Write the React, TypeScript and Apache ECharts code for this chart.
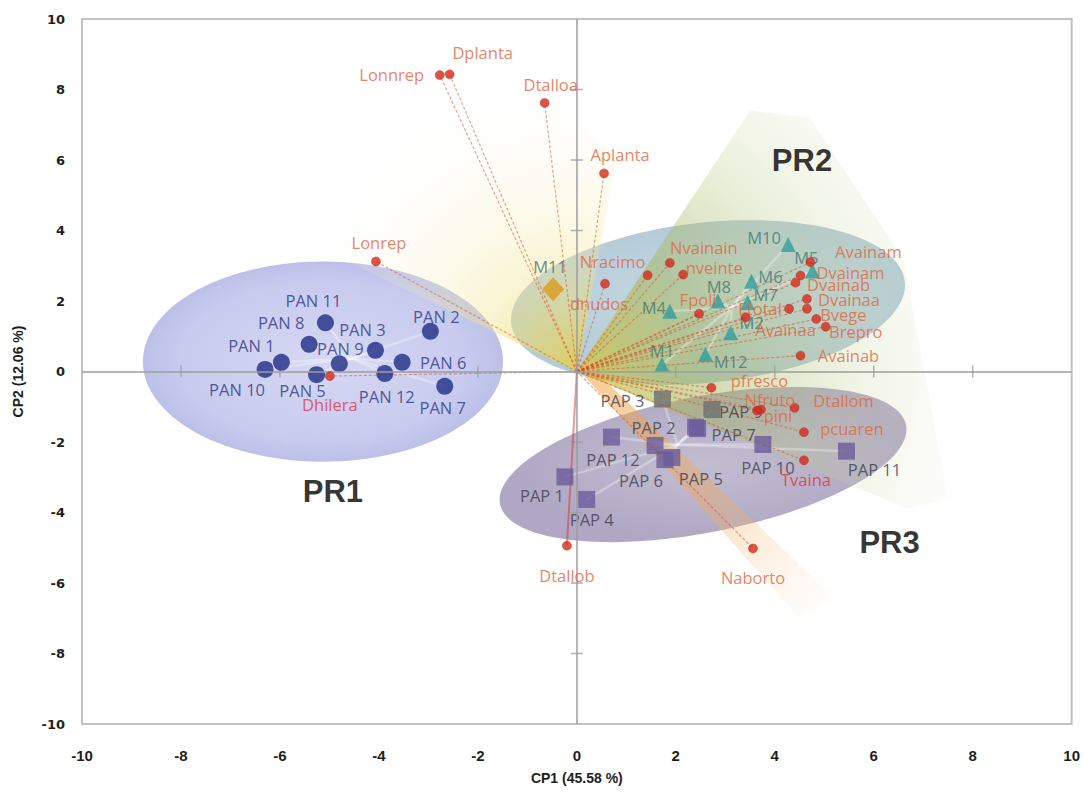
import React, { useEffect, useRef } from "react";
import * as echarts from "echarts";

// ---------- data ----------
const axisTicks = [-10, -8, -6, -4, -2, 0, 2, 4, 6, 8, 10];

const panNames = ["PAN 1", "PAN 2", "PAN 3", "PAN 5", "PAN 6", "PAN 7", "PAN 8", "PAN 9", "PAN 10", "PAN 11", "PAN 12"];
const panX = [-5.97, -2.96, -4.07, -5.26, -3.53, -2.67, -5.41, -4.8, -6.3, -5.08, -3.88];
const panY = [0.26, 1.14, 0.6, -0.09, 0.26, -0.42, 0.77, 0.22, 0.06, 1.38, -0.06];

const mNames = ["M1", "M2", "M4", "M5", "M6", "M7", "M8", "M10", "M12"];
const mX = [1.72, 3.11, 1.88, 4.76, 3.53, 3.45, 2.85, 4.27, 2.6];
const mY = [0.2, 1.1, 1.71, 2.85, 2.56, 1.96, 2.0, 3.6, 0.48];

const m11Names = ["M11"];
const m11X = [-0.48];
const m11Y = [2.33];

const papNames = ["PAP 1", "PAP 2", "PAP 3", "PAP 4", "PAP 5", "PAP 6", "PAP 7", "PAP 8", "PAP 9", "PAP 10", "PAP 11", "PAP 12"];
const papX = [-0.24, 2.4, 1.73, 0.2, 1.92, 1.78, 2.44, 0.7, 2.73, 3.76, 5.45, 1.58];
const papY = [-2.99, -1.58, -0.78, -3.63, -2.44, -2.5, -1.62, -1.86, -1.08, -2.07, -2.26, -2.1];

const varNames = [
  "Lonnrep", "Dplanta", "Dtalloa", "Aplanta", "Lonrep", "Dhilera", "dnudos", "Nracimo", "Nvainain", "nveinte",
  "Fpoli", "Avainaa", "Ftotal", "", "Avainam", "Dvainam", "Dvainab", "Dvainaa", "Bvege", "Brepro",
  "Avainab", "pfresco", "Nfruto", "pini", "Dtallom", "pcuaren", "Tvaina", "Naborto", "Dtallob",
];
const varX = [
  -2.77, -2.57, -0.65, 0.55, -4.06, -4.99, 0.57, 1.43, 1.88, 2.15,
  2.47, 3.41, 4.29, 4.65, 4.72, 4.52, 4.42, 4.65, 4.84, 5.03,
  4.52, 2.72, 3.64, 3.72, 4.4, 4.59, 4.59, 3.56, -0.2,
];
const varY = [
  8.41, 8.43, 7.62, 5.62, 3.12, -0.13, 2.49, 2.73, 3.08, 2.75,
  1.64, 1.54, 1.78, 1.78, 3.1, 2.72, 2.52, 2.06, 1.49, 1.27,
  0.45, -0.46, -1.11, -1.08, -1.03, -1.72, -2.52, -5.02, -4.94,
];

const regionNames = ["PR1", "PR2", "PR3"];
const regionX = [-4.93, 4.55, 6.32];
const regionY = [-3.4, 6.0, -4.85];

// ellipses: centre x, centre y, semi-axis x, semi-axis y (data units), rotation (deg)
const ellipseCx = [-5.13, 2.65, 2.55];
const ellipseCy = [0.28, 1.96, -2.64];
const ellipseRx = [3.64, 4.0, 4.18];
const ellipseRy = [2.84, 2.27, 1.93];
const ellipseRot = [0, 6, 11];

// beams (data-unit polygons)
const yellowBeam = [[0, 0], [-4.9, 3.3], [-3.6, 6.8], [-0.3, 7.6], [0.8, 6.0]];
const greenBeam = [[0, 0], [3.5, 7.4], [4.7, 7.2], [6.6, 3.2], [7.5, -3.6], [6.7, -3.9]];
const orangeBeam = [[0.15, -0.12], [0.45, -0.1], [5.2, -6.4], [4.5, -7.0]];

// ---------- styles ----------
const labelOffsets: Record<string, [number, number]> = {
  "PAN 11": [-12, -22], "PAN 8": [-28, -22], "PAN 1": [-30, -17], "PAN 10": [-28, 20], "PAN 5": [-14, 16],
  "PAN 9": [1, -15], "PAN 3": [-13, -21], "PAN 2": [6, -15], "PAN 6": [41, 0], "PAN 12": [2, 23], "PAN 7": [-2, 21],
  M10: [-24, -7], M5: [-6, -14], M6: [19, -5], M8: [1, -15], M7: [18, -8], M4: [-16, -4], M2: [21, -10],
  M1: [0, -14], M12: [25, 7], M11: [-3, -23],
  Lonnrep: [-48, -1], Dplanta: [33, -22], Dtalloa: [6, -18], Aplanta: [16, -19], Lonrep: [3, -19],
  Dhilera: [0, 28], dnudos: [-6, 20], Nracimo: [-35, -14], Nvainain: [34, -15], nveinte: [31, -7],
  Fpoli: [-1, -14], Ftotal: [-29, 0], Avainaa: [40, 12], Avainam: [58, -11], Dvainam: [50, -3],
  Dvainab: [43, 2], Dvainaa: [42, 1], Bvege: [27, -4], Brepro: [30, 5], Avainab: [48, 0],
  pfresco: [48, -7], Nfruto: [13, -11], pini: [17, 6], Dtallom: [49, -7], pcuaren: [48, -4],
  Tvaina: [2, 19], Naborto: [0, 29], Dtallob: [0, 30],
  "PAP 3": [-40, 2], "PAP 9": [29, 2], "PAP 2": [-42, 0], "PAP 7": [36, 6], "PAP 12": [-42, 14],
  "PAP 6": [-24, 21], "PAP 5": [29, 21], "PAP 10": [5, 23], "PAP 11": [28, 18], "PAP 1": [-23, 19], "PAP 4": [5, 20],
};
const hiddenLabels = ["PAP 8", ""];
const grayPap = ["PAP 3", "PAP 9"];
const labelFont = "'Open Sans', 'Noto Sans', sans-serif";

function lbl(name: string, color: string, size = 16.5) {
  const off = labelOffsets[name] || [0, 0];
  return {
    show: hiddenLabels.indexOf(name) < 0,
    position: "inside",
    offset: off,
    formatter: name,
    color,
    fontSize: size,
    fontFamily: labelFont,
  };
}

function centroidLines(xs: number[], ys: number[]) {
  const cx = xs.reduce((a, b) => a + b, 0) / xs.length;
  const cy = ys.reduce((a, b) => a + b, 0) / ys.length;
  return xs.map((x, i) => ({ coords: [[cx, cy], [x, ys[i]]] }));
}

function beamSeries(poly: number[][], kind: string) {
  return {
    type: "custom",
    silent: true,
    z: 1,
    data: [[0, 0]],
    renderItem: (_p: any, api: any) => {
      const pts = poly.map((p) => api.coord(p));
      const o = api.coord([0, 0]);
      let fill: any;
      if (kind === "yellow") {
        fill = {
          type: "radial", x: o[0], y: o[1], r: 320, global: true,
          colorStops: [
            { offset: 0, color: "rgba(230,205,60,0.8)" },
            { offset: 0.3, color: "rgba(240,228,140,0.42)" },
            { offset: 0.65, color: "rgba(248,242,200,0.18)" },
            { offset: 1, color: "rgba(255,255,255,0)" },
          ],
        };
      } else if (kind === "green") {
        fill = {
          type: "radial", x: o[0], y: o[1], r: 430, global: true,
          colorStops: [
            { offset: 0, color: "rgba(215,200,70,0.8)" },
            { offset: 0.3, color: "rgba(160,180,90,0.5)" },
            { offset: 0.6, color: "rgba(190,205,140,0.28)" },
            { offset: 1, color: "rgba(235,240,215,0.03)" },
          ],
        };
      } else {
        const e = api.coord([4.85, -6.7]);
        fill = {
          type: "linear", x: o[0], y: o[1], x2: e[0], y2: e[1], global: true,
          colorStops: [
            { offset: 0, color: "rgba(240,160,60,0.55)" },
            { offset: 0.55, color: "rgba(242,170,90,0.4)" },
            { offset: 1, color: "rgba(250,210,165,0.05)" },
          ],
        };
      }
      return { type: "polygon", shape: { points: pts }, style: { fill } };
    },
  };
}

const ellipseFills = [
  new echarts.graphic.RadialGradient(0.5, 0.5, 0.5, [
    { offset: 0, color: "#d5d7f2" }, { offset: 0.8, color: "#c8cbee" }, { offset: 1, color: "#bcc0e8" },
  ]),
  new echarts.graphic.RadialGradient(0.5, 0.5, 0.5, [
    { offset: 0, color: "#c9dbe4" }, { offset: 1, color: "#b3cad8" },
  ]),
  new echarts.graphic.RadialGradient(0.5, 0.5, 0.5, [
    { offset: 0, color: "#c3bdd1" }, { offset: 1, color: "#afa7c3" },
  ]),
];

export default function App() {
  const ref = useRef<HTMLDivElement>(null);
  useEffect(() => {
    document.body.style.margin = "0";
    if (!ref.current) return;
    const chart = echarts.init(ref.current, undefined, { renderer: "svg" });

    const innerTicks = axisTicks.filter((t) => t !== 0 && Math.abs(t) !== 10);

    const option: any = {
      animation: false,
      backgroundColor: "#ffffff",
      grid: { left: 82, top: 19, width: 990, height: 705, show: true, borderColor: "#c2c2c2", borderWidth: 2, backgroundColor: "transparent" },
      xAxis: {
        type: "value",
        min: axisTicks[0],
        max: axisTicks[axisTicks.length - 1],
        interval: 2,
        axisLine: { show: false },
        axisTick: { show: false },
        splitLine: { show: false },
        axisLabel: { margin: 24, color: "#1e1e1e", fontSize: 15, fontWeight: "bold", fontFamily: "'Liberation Sans Narrow', 'Liberation Sans', sans-serif" },
        name: "CP1 (45.58 %)",
        nameLocation: "middle",
        nameGap: 47,
        nameTextStyle: { color: "#1e1e1e", fontSize: 14, fontWeight: "bold", fontFamily: "'Liberation Sans Narrow', 'Liberation Sans', sans-serif" },
      },
      yAxis: {
        type: "value",
        min: axisTicks[0],
        max: axisTicks[axisTicks.length - 1],
        interval: 2,
        axisLine: { show: false },
        axisTick: { show: false },
        splitLine: { show: false },
        axisLabel: { margin: 17, color: "#1e1e1e", fontSize: 13, fontWeight: "bold", fontFamily: "'DejaVu Sans', sans-serif" },
        name: "CP2 (12.06 %)",
        nameLocation: "middle",
        nameGap: 57,
        nameTextStyle: { color: "#1e1e1e", fontSize: 14, fontWeight: "bold", fontFamily: "'Liberation Sans Narrow', 'Liberation Sans', sans-serif" },
      },
      series: [
        {
          type: "custom",
          name: "regions",
          silent: true,
          z: 1,
          data: ellipseCx.map((c, i) => [c, ellipseCy[i], ellipseRx[i], ellipseRy[i], ellipseRot[i]]),
          renderItem: (params: any, api: any) => {
            const c = api.coord([api.value(0), api.value(1)]);
            const s = api.size([api.value(2), api.value(3)]);
            const rot = (api.value(4) * Math.PI) / 180;
            const pts: number[][] = [];
            for (let k = 0; k < 120; k++) {
              const t = (k / 120) * 2 * Math.PI;
              const ex = s[0] * Math.cos(t);
              const ey = s[1] * Math.sin(t);
              pts.push([c[0] + ex * Math.cos(rot) - ey * Math.sin(rot), c[1] - (ex * Math.sin(rot) + ey * Math.cos(rot))]);
            }
            return { type: "polygon", shape: { points: pts }, style: { fill: ellipseFills[params.dataIndex] } };
          },
        },
        beamSeries(yellowBeam, "yellow"),
        beamSeries(greenBeam, "green"),
        beamSeries(orangeBeam, "orange"),
        {
          type: "lines",
          name: "spider",
          coordinateSystem: "cartesian2d",
          silent: true,
          z: 2,
          lineStyle: { color: "rgba(255,255,255,0.6)", width: 2.5, type: "solid" },
          data: [
            ...centroidLines(panX, panY),
            ...centroidLines(papX, papY),
            ...centroidLines(mX, mY),
          ],
        },
        {
          type: "scatter",
          name: "ticks",
          silent: true,
          z: 2,
          symbol: "rect",
          itemStyle: { color: "#9c9c9c" },
          data: [
            ...innerTicks.map((t) => ({ value: [t, 0], symbolSize: [1.5, 12] })),
            ...innerTicks.map((t) => ({ value: [0, t], symbolSize: [12, 1.5] })),
          ],
          markLine: {
            silent: true,
            symbol: "none",
            label: { show: false },
            lineStyle: { color: "#9c9c9c", width: 1.5, type: "solid" },
            data: [{ xAxis: 0 }, { yAxis: 0 }],
          },
        },
        {
          type: "lines",
          name: "vectors",
          coordinateSystem: "cartesian2d",
          silent: true,
          z: 3,
          lineStyle: { color: "#d9472a", width: 1.2, type: [3, 2] },
          data: varNames.map((n, i) => ({
            coords: [[0, 0], [varX[i], varY[i]]],
            lineStyle: n === "Dtallob" ? { type: "solid", width: 2, color: "#d8322a" } : undefined,
          })),
        },
        {
          type: "scatter",
          name: "PAN",
          z: 4,
          symbol: "circle",
          symbolSize: 17,
          itemStyle: { color: "#1f2c86" },
          data: panNames.map((n, i) => ({ value: [panX[i], panY[i]], label: lbl(n, "#2d3480") })),
        },
        {
          type: "scatter",
          name: "PAP",
          z: 4,
          symbol: "rect",
          symbolSize: 17,
          data: papNames.map((n, i) => ({
            value: [papX[i], papY[i]],
            itemStyle: { color: grayPap.indexOf(n) >= 0 ? "#6e6e6e" : "#6a5b9c" },
            label: lbl(n, "#3c3c50"),
          })),
        },
        {
          type: "scatter",
          name: "M",
          z: 4,
          symbol: "triangle",
          symbolSize: 15,
          itemStyle: { color: "#2f9c9c" },
          data: mNames.map((n, i) => ({ value: [mX[i], mY[i]], label: lbl(n, "#3e7775") })),
        },
        {
          type: "scatter",
          name: "M11",
          z: 4,
          symbol: "diamond",
          symbolSize: [22, 24],
          itemStyle: { color: "#dc9a1e" },
          data: m11Names.map((n, i) => ({ value: [m11X[i], m11Y[i]], label: lbl(n, "#4d6a6a") })),
        },
        {
          type: "scatter",
          name: "variables",
          z: 5,
          symbol: "circle",
          symbolSize: 9,
          itemStyle: { color: "#d42a1c", borderColor: "#b81e12", borderWidth: 0.5 },
          data: varNames.map((n, i) => ({
            value: [varX[i], varY[i]],
            label: lbl(n, n === "Dhilera" ? "#dc3a4a" : n === "Tvaina" ? "#e0362c" : "#e0653e"),
          })),
        },
        {
          type: "scatter",
          name: "regionLabels",
          z: 5,
          silent: true,
          symbolSize: 0,
          data: regionNames.map((n, i) => ({
            value: [regionX[i], regionY[i]],
            label: { show: true, position: "inside", formatter: n, color: "#000000", fontSize: 31, fontWeight: "bold", fontFamily: "'Liberation Sans', Arial, sans-serif" },
          })),
        },
      ],
    };
    chart.setOption(option);
    return () => chart.dispose();
  }, []);
  return <div ref={ref} style={{ width: 1083, height: 795 }} />;
}
